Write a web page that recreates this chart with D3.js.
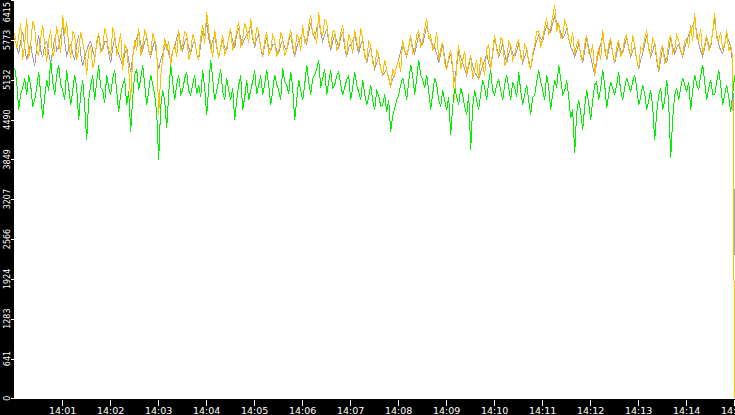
<!DOCTYPE html>
<html>
<head>
<meta charset="utf-8">
<script src="https://cdn.jsdelivr.net/npm/d3@7"></script>
<style>
  html, body { margin: 0; padding: 0; background: #fff; overflow: hidden; }
  svg { display: block; }
  .axis text { fill: #fff; font-family: "DejaVu Sans", sans-serif; }
</style>
</head>
<body>
<div id="chart"></div>
<script>
// one sample every 2.5 seconds from 14:00:00 to 14:15:00
var startTime = new Date(2000, 0, 1, 14, 0, 0);
var endTime = new Date(2000, 0, 1, 14, 15, 0);
var stepSeconds = 2.5;

var yTicks = [0, 641, 1283, 1924, 2566, 3207, 3849, 4490, 5132, 5773, 6415];
var yMax = 6415;

var graySeries = [
	5800, 5650, 5550, 5750, 5900, 5650, 5450, 5600, 5700, 5500, 5350, 5650, 5850, 5600, 5500, 5700, 5750, 5550, 5400, 5600,
	5800, 5600, 5650, 5850, 6000, 5750, 5500, 5650, 5700, 5550, 5450, 5700, 5850, 5550, 5350, 5500, 5600, 5700, 5750, 5600,
	5500, 5700, 5850, 5650, 5600, 5750, 5750, 5550, 5400, 5650, 5800, 5600, 5550, 5450, 5350, 5550, 5650, 5450, 5250, 5500,
	5700, 5800, 5900, 5700, 5600, 5750, 5800, 5600, 5500, 5650, 5750, 5500, 5300, 5450, 5550, 5650, 5700, 5550, 5450, 5600,
	5650, 5800, 5900, 5700, 5600, 5750, 5800, 5650, 5550, 5700, 5750, 5550, 5450, 5700, 5900, 5850, 6050, 5800, 5650, 5750,
	5850, 5650, 5500, 5650, 5750, 5650, 5600, 5800, 5900, 5750, 5650, 5850, 5950, 5800, 5700, 5800, 5850, 5900, 6000, 5800,
	5650, 5800, 5850, 5650, 5500, 5700, 5800, 5650, 5600, 5700, 5700, 5600, 5550, 5700, 5750, 5650, 5600, 5750, 5850, 5650,
	5500, 5650, 5750, 5800, 5900, 5800, 5700, 5900, 6050, 5900, 5800, 5950, 6100, 5900, 5750, 5850, 5950, 5750, 5600, 5750,
	5850, 5750, 5650, 5800, 5900, 5650, 5500, 5650, 5700, 5750, 5850, 5700, 5550, 5700, 5750, 5550, 5400, 5550, 5650, 5450,
	5300, 5400, 5500, 5300, 5200, 5250, 5300, 5150, 5050, 5150, 5200, 5350, 5450, 5600, 5700, 5600, 5500, 5650, 5800, 5650,
	5550, 5700, 5850, 5750, 5700, 5850, 6000, 5850, 5750, 5700, 5650, 5550, 5400, 5550, 5700, 5500, 5300, 5450, 5550, 5300,
	5100, 5350, 5600, 5500, 5400, 5300, 5200, 5350, 5500, 5350, 5250, 5200, 5150, 5250, 5350, 5450, 5550, 5400, 5300, 5550,
	5800, 5650, 5500, 5600, 5700, 5550, 5400, 5550, 5650, 5550, 5500, 5600, 5700, 5550, 5400, 5500, 5600, 5450, 5300, 5500,
	5650, 5750, 5850, 5800, 5750, 5900, 6000, 5950, 5900, 6050, 6150, 6050, 6000, 5900, 5800, 5850, 5950, 5800, 5650, 5600,
	5500, 5600, 5700, 5550, 5400, 5600, 5800, 5650, 5500, 5350, 5200, 5400, 5600, 5700, 5850, 5650, 5450, 5600, 5750, 5550,
	5400, 5550, 5700, 5600, 5550, 5700, 5800, 5650, 5500, 5600, 5650, 5450, 5300, 5450, 5550, 5700, 5850, 5650, 5500, 5600,
	5700, 5450, 5250, 5450, 5650, 5500, 5400, 5600, 5800, 5650, 5550, 5650, 5700, 5600, 5500, 5650, 5750, 5850, 5950, 6000,
	6100, 5900, 5700, 5600, 5500, 5650, 5800, 5700, 5650, 5900, 6100, 5850, 5700, 5600, 5550, 5700, 5850, 5750, 5650, 5400,
	2300
];

var orangeSeries = [
	5880, 5620, 5835, 6040, 5450, 5700, 6125, 5480, 5690, 6080, 5965, 5600, 5530, 5800, 6010, 5700, 5420, 5760, 5930, 5500,
	5610, 5990, 5770, 5560, 6175, 5850, 6060, 5700, 5480, 5900, 5850, 5450, 5610, 5900, 5740, 5560, 5210, 5600, 5690, 5320,
	5450, 5750, 5880, 5560, 5640, 5960, 5835, 5600, 5530, 5950, 5880, 5520, 5690, 5880, 5290, 5700, 5610, 5300, 4805, 5500,
	5770, 5600, 5965, 5520, 5690, 5920, 5850, 5600, 5530, 5880, 5770, 5650, 4565, 5200, 5450, 5800, 5610, 5750, 5370, 5600,
	5690, 5500, 5930, 5600, 5690, 5900, 5880, 5450, 5580, 5860, 5770, 5540, 5480, 5820, 6010, 5700, 6220, 5920, 5690, 5500,
	5930, 5700, 5480, 5650, 5850, 5520, 5640, 5800, 5965, 5600, 5740, 5900, 6060, 5650, 5800, 6050, 5930, 5720, 6125, 5820,
	5690, 5980, 5900, 5650, 5530, 5760, 5900, 5540, 5610, 5850, 5770, 5500, 5580, 5900, 5800, 5520, 5610, 5800, 5930, 5700,
	5530, 5850, 5800, 5600, 6010, 5720, 5770, 6000, 6175, 5860, 5900, 5700, 6220, 5900, 5850, 6100, 6060, 5780, 5640, 5900,
	5930, 5600, 5690, 5880, 6010, 5700, 5530, 5860, 5770, 5550, 5930, 5750, 5610, 5960, 5800, 5500, 5420, 5750, 5690, 5400,
	5320, 5600, 5530, 5300, 5210, 5450, 5290, 5150, 5000, 5300, 5210, 5350, 5450, 5250, 5770, 5600, 5530, 5650, 5850, 5550,
	5610, 5850, 5930, 5650, 5770, 5950, 6125, 5800, 5850, 5600, 5690, 5900, 5450, 5620, 5740, 5400, 5290, 5500, 5610, 5350,
	4805, 5400, 5690, 5300, 5450, 5600, 5210, 5400, 5530, 5150, 5290, 5450, 5130, 5500, 5370, 5200, 5610, 5700, 5290, 5600,
	5850, 5600, 5530, 5800, 5770, 5350, 5450, 5750, 5690, 5450, 5530, 5700, 5770, 5500, 5420, 5700, 5640, 5400, 5290, 5550,
	5690, 5900, 5930, 5650, 5800, 5980, 6125, 5850, 5965, 6150, 6335, 5900, 6060, 5800, 5850, 6080, 6010, 5800, 5690, 5900,
	5530, 5700, 5770, 5500, 5450, 5700, 5850, 5550, 5530, 5700, 5210, 5480, 5640, 5450, 5930, 5600, 5480, 5700, 5800, 5550,
	5420, 5650, 5770, 5500, 5580, 5800, 5850, 5600, 5530, 5850, 5690, 5450, 5320, 5650, 5610, 5800, 5930, 5600, 5530, 5800,
	5740, 5500, 5290, 5600, 5690, 5400, 5450, 5750, 5850, 5550, 5610, 5850, 5770, 5600, 5530, 5750, 5800, 5650, 6010, 5750,
	6205, 5800, 5770, 5950, 5530, 5700, 5850, 5600, 5690, 5900, 6205, 5800, 5770, 5900, 5610, 5700, 5930, 5600, 5690, 5500,
	0
];

var greenSeries = [
	5320, 5100, 4645, 4900, 5000, 5150, 4885, 5200, 5045, 4700, 4805, 5000, 5255, 4900, 4515, 4850, 5130, 4950, 5450, 5100,
	4885, 5200, 5370, 5050, 4965, 4800, 5290, 5000, 4725, 4950, 5210, 5000, 4485, 4900, 5130, 4700, 4160, 4800, 5045, 5200,
	4805, 5100, 5370, 5000, 4965, 4750, 5210, 5000, 4885, 5150, 5290, 4950, 4610, 4900, 5045, 5150, 4725, 4950, 4290, 4850,
	5210, 5300, 4965, 5150, 5370, 5050, 4725, 4950, 5210, 5050, 4885, 4600, 3840, 4700, 4965, 4800, 4355, 4900, 5370, 5100,
	4805, 5050, 5210, 4900, 4965, 5150, 5255, 4950, 4885, 5050, 5210, 4900, 5045, 4850, 5290, 5000, 4565, 5000, 5450, 5150,
	4805, 4950, 5130, 5300, 4935, 4800, 5160, 4950, 4805, 5000, 4485, 4800, 5045, 5200, 4645, 4850, 5130, 4800, 4965, 5100,
	5290, 4900, 5045, 5200, 4885, 5050, 5290, 5050, 4725, 4950, 5210, 5050, 4965, 4800, 5320, 5100, 5045, 4900, 5255, 5000,
	4485, 4800, 5130, 4950, 4805, 5050, 5370, 5100, 4885, 5150, 5210, 5300, 5450, 5000, 5160, 5300, 4885, 5100, 5290, 5000,
	5045, 5200, 5255, 5050, 4885, 5000, 5130, 5200, 4805, 5000, 5255, 5050, 4935, 4800, 5130, 4900, 4725, 4850, 5045, 4800,
	4645, 4950, 4885, 4700, 4725, 4900, 4610, 4800, 4290, 4550, 4675, 4800, 4885, 5050, 5160, 5000, 4805, 5100, 5370, 5200,
	4885, 5150, 5450, 5200, 5130, 5000, 5210, 4950, 4645, 4900, 5160, 5050, 4805, 4700, 4965, 4800, 4645, 4850, 4240, 4700,
	5000, 4850, 4725, 5000, 4885, 4700, 4565, 4900, 4000, 4700, 4965, 4800, 4645, 4900, 5130, 5000, 4805, 5100, 5290, 4950,
	4885, 5050, 5130, 4950, 4805, 5050, 5210, 5000, 4805, 5100, 5000, 4850, 5255, 4950, 4725, 4900, 5045, 4800, 4565, 4850,
	4885, 5100, 5290, 5100, 4965, 4800, 5210, 5000, 4645, 4900, 5130, 5000, 5370, 5150, 4885, 4950, 5130, 4850, 4515, 4650,
	3950, 4600, 4805, 4600, 4320, 4700, 4965, 4750, 4485, 4800, 5045, 5100, 4805, 5000, 5290, 5050, 4675, 4900, 5095, 5000,
	4885, 5050, 5255, 4950, 4805, 5000, 5160, 5050, 4935, 5100, 5210, 5000, 4725, 4850, 5045, 4900, 4645, 4800, 4965, 4700,
	4160, 4600, 4885, 5000, 4645, 4800, 5130, 4750, 3870, 4500, 4885, 5000, 4805, 5000, 5160, 5050, 4935, 5100, 4645, 4950,
	5210, 5050, 4965, 5200, 5370, 5100, 4805, 5000, 5130, 4900, 4885, 5100, 5290, 5050, 4725, 4900, 5045, 4850, 4610, 4900,
	5210
];

var series = [
	{ name: 'gray', values: graySeries, color: '#a59eab' },
	{ name: 'orange', values: orangeSeries, color: '#ffc000' },
	{ name: 'green', values: greenSeries, color: '#00f000' }
];

var width = 735, height = 415;
var margin = { left: 14.7, right: 0.3, top: 0, bottom: 16.7 };

var svg = d3.select('#chart')
	.append('svg')
	.attr('width', width)
	.attr('height', height);

var x = d3.scaleTime()
	.domain([startTime, endTime])
	.range([margin.left, width - margin.right]);

var y = d3.scaleLinear()
	.domain([0, yMax])
	.range([height - margin.bottom, margin.top]);

function timeAt(i) {
	return new Date(startTime.getTime() + i * stepSeconds * 1000);
}

var line = d3.line()
	.x(function (d, i) { return x(timeAt(i)); })
	.y(function (d) { return y(d); });

svg.selectAll('path.series')
	.data(series)
	.enter()
	.append('path')
	.attr('class', 'series')
	.attr('fill', 'none')
	.attr('stroke', function (d) { return d.color; })
	.attr('stroke-width', 1)
	.attr('shape-rendering', 'crispEdges')
	.attr('d', function (d) { return line(d.values); });

// black axis bands
svg.append('rect')
	.attr('x', 0).attr('y', 0)
	.attr('width', 14).attr('height', height)
	.attr('fill', '#000');
svg.append('rect')
	.attr('x', 0).attr('y', 399)
	.attr('width', width).attr('height', height - 399)
	.attr('fill', '#000');

// Y axis
var yAxis = svg.append('g').attr('class', 'axis');
yAxis.selectAll('line')
	.data(yTicks)
	.enter()
	.append('line')
	.attr('x1', 11).attr('x2', 16)
	.attr('y1', function (d) { return Math.round(y(d)) + 0.5; })
	.attr('y2', function (d) { return Math.round(y(d)) + 0.5; })
	.attr('stroke', '#fff')
	.attr('shape-rendering', 'crispEdges');
yAxis.selectAll('text')
	.data(yTicks)
	.enter()
	.append('text')
	.attr('transform', function (d) {
		var ty = d === yMax ? 2 : y(d);
		return 'translate(9.5,' + ty + ') rotate(-90)';
	})
	.attr('text-anchor', function (d) { return d === yMax ? 'end' : 'middle'; })
	.style('font-size', '8px')
	.text(function (d) { return d; });

// X axis
var xTicks = d3.timeMinute.range(new Date(2000, 0, 1, 14, 1, 0), new Date(2000, 0, 1, 14, 15, 1));
var fmt = d3.timeFormat('%H:%M');
var xAxis = svg.append('g').attr('class', 'axis');
xAxis.selectAll('line')
	.data(xTicks)
	.enter()
	.append('line')
	.attr('x1', function (d) { return Math.round(x(d)) - 0.5; })
	.attr('x2', function (d) { return Math.round(x(d)) - 0.5; })
	.attr('y1', 400).attr('y2', 405.5)
	.attr('stroke', '#fff')
	.attr('shape-rendering', 'crispEdges');
xAxis.selectAll('text')
	.data(xTicks)
	.enter()
	.append('text')
	.attr('x', function (d) { return x(d); })
	.attr('y', 414)
	.attr('text-anchor', 'middle')
	.style('font-size', '9.5px')
	.text(function (d) { return fmt(d); });
</script>
</body>
</html>
